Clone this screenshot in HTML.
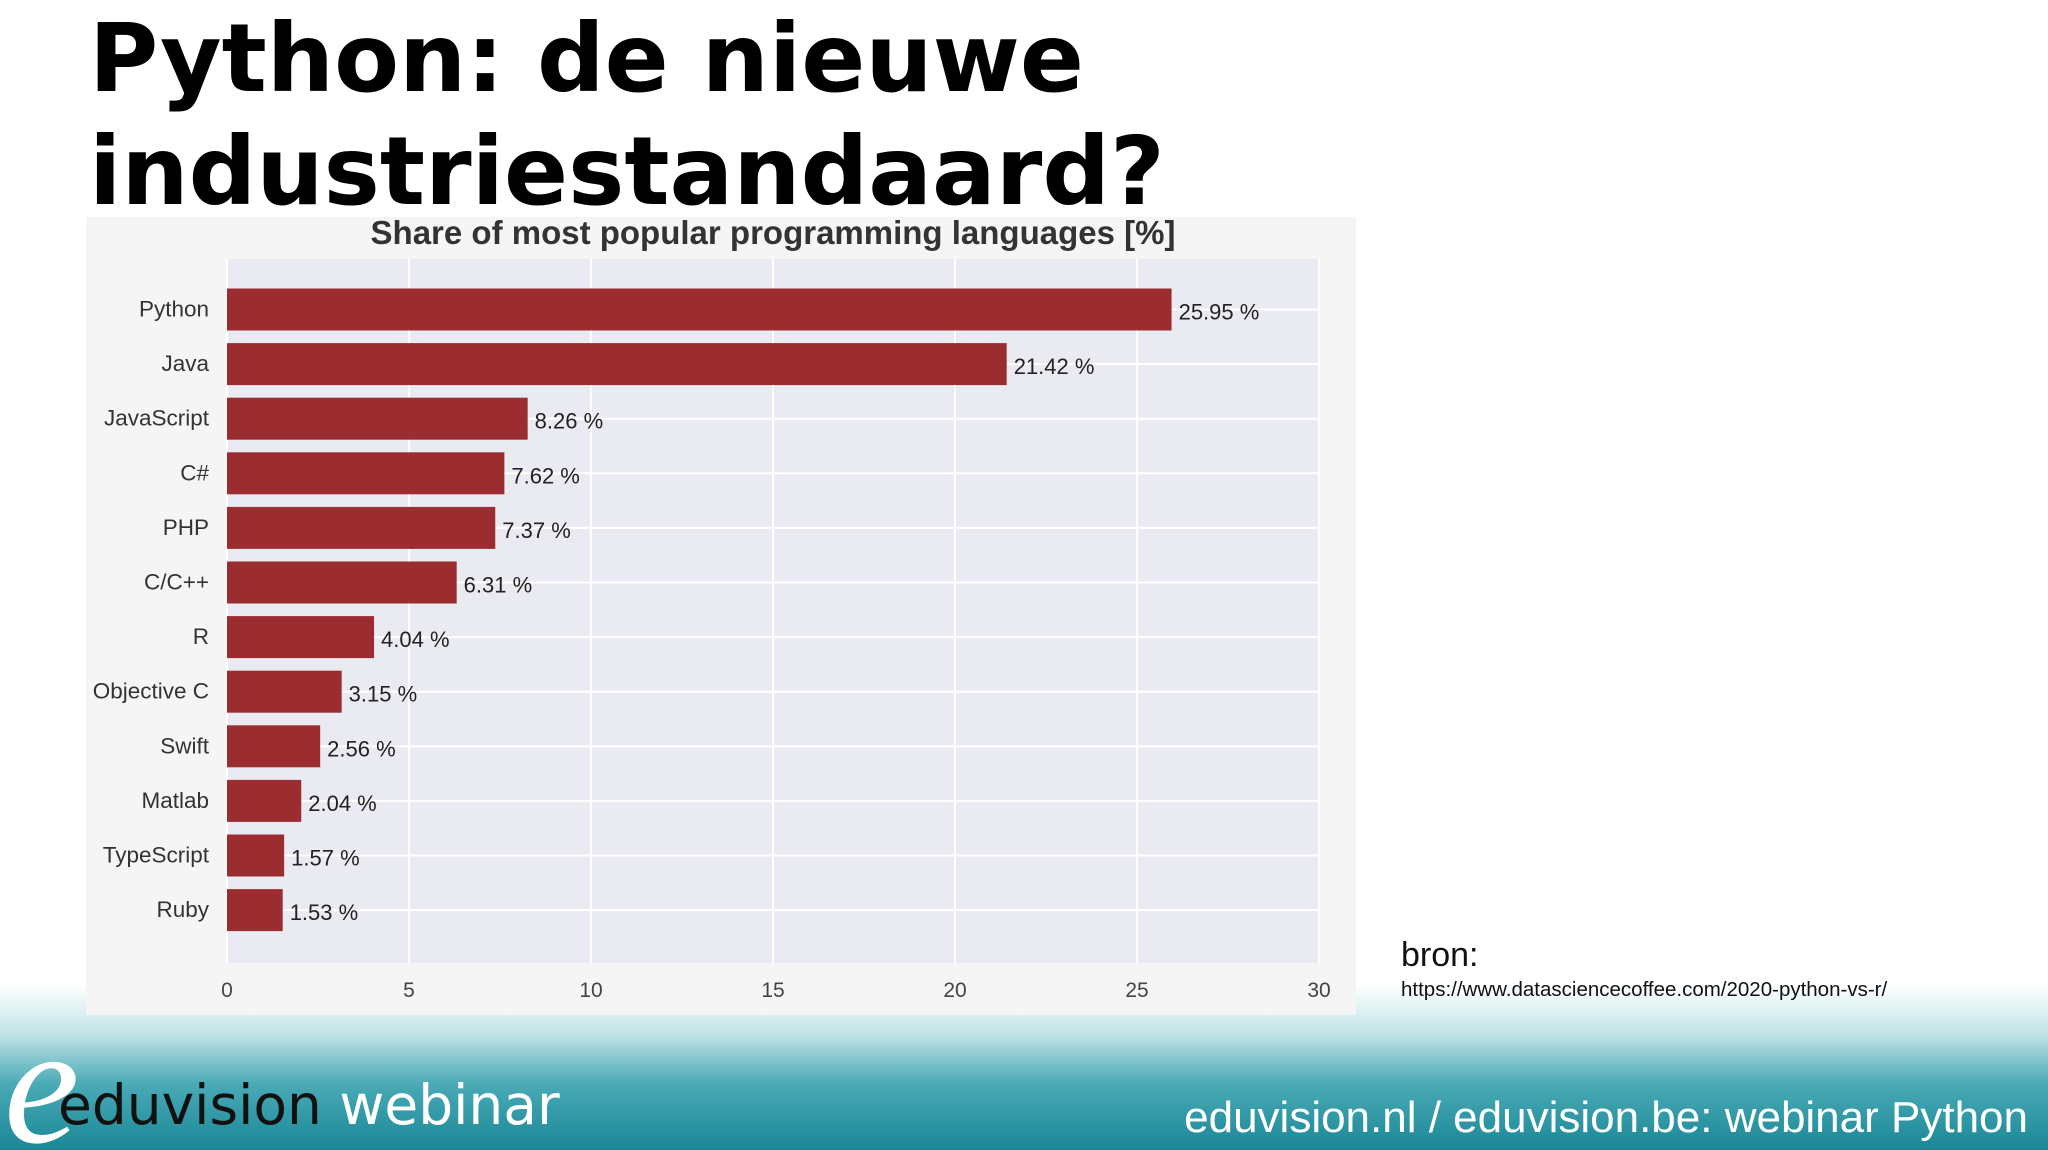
<!DOCTYPE html>
<html><head><meta charset="utf-8"><style>
html,body{margin:0;padding:0;background:#fff;}
svg{display:block;font-family:"Liberation Sans",sans-serif;}
</style></head><body>
<svg id="s" width="2048" height="1150" viewBox="0 0 2048 1150">
<defs>
<linearGradient id="fg" x1="0" y1="0" x2="0" y2="1">
<stop offset="0" stop-color="#ffffff"/>
<stop offset="0.3" stop-color="#bfe3e6"/>
<stop offset="0.6" stop-color="#4aaab6"/>
<stop offset="1" stop-color="#1a8796"/>
</linearGradient>
</defs>
<rect x="0" y="985" width="2048" height="165" fill="url(#fg)"/>
<text x="89" y="91" font-size="94.5" font-weight="bold" font-family="DejaVu Sans,sans-serif" fill="#000">Python: de nieuwe</text>
<text x="89" y="204" font-size="94.5" font-weight="bold" font-family="DejaVu Sans,sans-serif" fill="#000">industriestandaard?</text>
<rect x="86" y="217" width="1270" height="798" fill="#f5f5f5"/>
<rect x="227" y="259" width="1092" height="704" fill="#eaeaf2"/>
<text x="773" y="244" font-size="33" font-weight="bold" fill="#333" text-anchor="middle">Share of most popular programming languages [%]</text>
<g id="grid"></g>
<g id="bars"></g>
<g id="xt"></g>
<text x="1401" y="966" font-size="34" fill="#111">bron:</text>
<text x="1401" y="996" font-size="20.5" fill="#111">https://www.datasciencecoffee.com/2020-python-vs-r/</text>
<text x="4" y="1142" font-size="170" font-style="italic" font-family="Liberation Serif,serif" fill="#fff">e</text>
<text x="58" y="1124" font-size="55" font-family="DejaVu Sans,sans-serif" fill="#111">eduvision <tspan fill="#fff">webinar</tspan></text>
<text x="2028" y="1132" font-size="44" fill="#fff" text-anchor="end">eduvision.nl / eduvision.be: webinar Python</text>
</svg>
<script>
const categories=["Python","Java","JavaScript","C#","PHP","C/C++","R","Objective C","Swift","Matlab","TypeScript","Ruby"];
const values=[25.95,21.42,8.26,7.62,7.37,6.31,4.04,3.15,2.56,2.04,1.57,1.53];
const ticks=[0,5,10,15,20,25,30];
const NS="http://www.w3.org/2000/svg";
const x0=227,x1=1319,yTop=309.5,step=54.6,bh=42;
const xs=v=>x0+(x1-x0)*v/30;
const ys=i=>yTop+i*step;
function mk(t,a,p){const e=document.createElementNS(NS,t);for(const k in a)e.setAttribute(k,a[k]);document.getElementById(p).appendChild(e);return e;}
ticks.forEach(t=>{
 const l=mk('line',{x1:xs(t),x2:xs(t),y1:259,y2:963,stroke:'#fff','stroke-width':2},'grid');
 
 
 const tx=mk('text',{x:xs(t),y:997,'font-size':21,fill:'#444','text-anchor':'middle'},'xt');
 tx.textContent=t;
 
 
});
categories.forEach((c,i)=>{
 const g=mk('line',{x1:x0,x2:x1,y1:ys(i),y2:ys(i),stroke:'#fff','stroke-width':2},'grid');
 
 
 const r=mk('rect',{x:x0,y:ys(i)-bh/2,width:xs(values[i])-x0,height:bh,fill:'#9b2d30'},'bars');
 
 
 const lb=mk('text',{x:209,y:ys(i)+7,'font-size':22.5,fill:'#333','text-anchor':'end'},'bars');
 lb.textContent=c;
 
 
 const vl=mk('text',{x:xs(values[i])+7,y:ys(i)+10,'font-size':22,fill:'#222'},'bars');
 vl.textContent=values[i].toFixed(2)+' %';
 
 
});
</script>
</body></html>
